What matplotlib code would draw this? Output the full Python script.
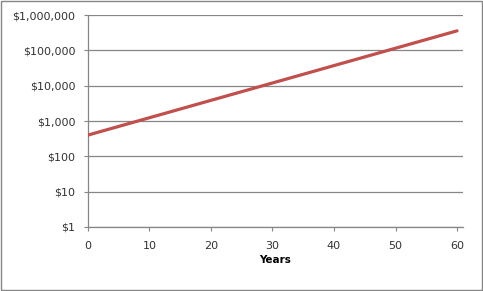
import matplotlib.pyplot as plt
from matplotlib.patches import Rectangle
from matplotlib.ticker import FuncFormatter

# value by year (log scale)
years = list(range(0, 61))
values = [400, 448, 502, 562, 629, 705, 790, 884, 990, 1109,
          1242, 1391, 1558, 1745, 1955, 2190, 2452, 2747, 3076, 3445,
          3859, 4322, 4841, 5422, 6072, 6801, 7617, 8531, 9555, 10701,
          11985, 13424, 15035, 16839, 18860, 21123, 23657, 26496, 29676, 33237,
          37226, 41693, 46696, 52300, 58576, 65605, 73478, 82296, 92171, 103232,
          115620, 129494, 145034, 162438, 181930, 203762, 228213, 255599, 286271, 320624,
          359099]
y_ticks = [1, 10, 100, 1000, 10000, 100000, 1000000]
x_ticks = [0, 10, 20, 30, 40, 50, 60]

grey = "#868686"

fig = plt.figure(figsize=(4.83, 2.91), dpi=100)
ax = fig.add_axes([0.182, 0.22, 0.777, 0.728])

for v in y_ticks:
    ax.axhline(v, color=grey, lw=0.9, zorder=1)

ax.plot(years, values, color="#C0504D", lw=2.3, zorder=3, solid_capstyle="round")

ax.set_yscale("log")
ax.set_ylim(1, 1000000)
ax.set_xlim(0, 61)
ax.set_yticks(y_ticks)
ax.yaxis.set_minor_locator(plt.NullLocator())
ax.yaxis.set_major_formatter(FuncFormatter(lambda v, p: "${:,.0f}".format(v)))
ax.set_xticks(x_ticks)

for s in ["top", "right"]:
    ax.spines[s].set_visible(False)
for s in ["left", "bottom"]:
    ax.spines[s].set_color(grey)
    ax.spines[s].set_linewidth(0.9)

ax.tick_params(axis="both", colors=grey, length=3, width=0.8, labelsize=8,
               labelcolor="#333333")
ax.tick_params(axis="y", pad=6)
ax.tick_params(axis="x", pad=7)
ax.set_xlabel("Years", fontsize=7.5, fontweight="bold", labelpad=3)

fig.patches.append(Rectangle((0.002, 0.003), 0.995, 0.993, transform=fig.transFigure,
                             fill=False, edgecolor=grey, lw=1))

fig.savefig("out.png", dpi=100)
